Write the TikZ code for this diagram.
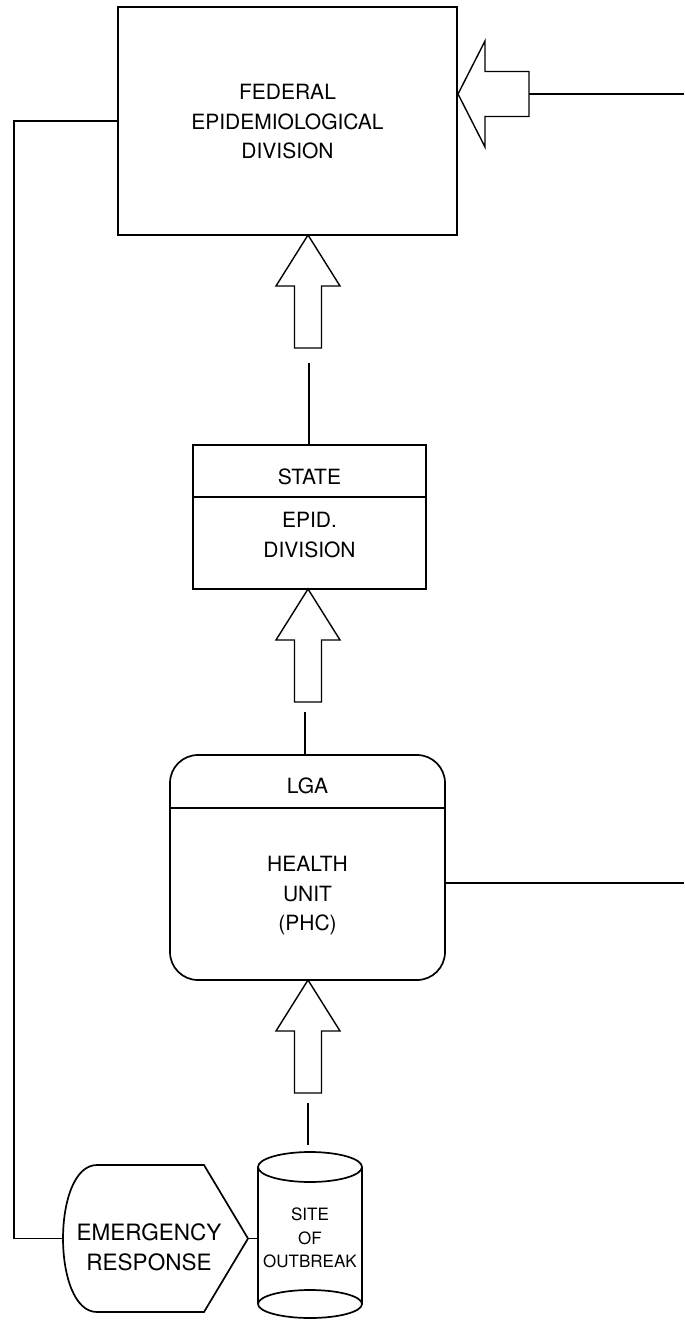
\documentclass[tikz,border=0pt]{standalone}
\usepackage{fontspec}
\setmainfont{TeX Gyre Heros}
\begin{document}
\begin{tikzpicture}[x=1bp,y=-1bp,
  every node/.style={font=\fontsize{21bp}{29.5bp}\selectfont, inner sep=0pt},
  big/.style={font=\fontsize{22.5bp}{30bp}\selectfont},
  small/.style={font=\fontsize{17bp}{23.5bp}\selectfont},
  box/.style={draw, line width=1.7bp},
  ln/.style={line width=1.2bp},
  blk/.style={draw, line width=1.4bp, fill=white, line join=miter},
  uparrow/.pic={\draw[blk] (0,0) -- (32,51) -- (13.5,51) -- (13.5,113) -- (-13.5,113) -- (-13.5,51) -- (-32,51) -- cycle;},
  leftarrow/.pic={\draw[blk] (0,0) -- (27,-53) -- (27,-22.5) -- (71,-22.5) -- (71,22.5) -- (27,22.5) -- (27,53) -- cycle;}
]
\useasboundingbox (0,0) rectangle (684,1321);

% Federal
\node[box, minimum width=339bp, minimum height=228bp] (fed) at (287.5,121) {};
\node[align=center] (fedt) at (287.5,122) {FEDERAL\\EPIDEMIOLOGICAL\\DIVISION};

% State
\node[box, minimum width=233bp, minimum height=144bp] (state) at (309.5,517) {};
\draw[ln] (state.west |- 0,497) -- (state.east |- 0,497);
\node (statet) at (309.5,477) {STATE};
\node[align=center] (epid) at (309.5,535) {EPID.\\DIVISION};

% LGA
\node[box, rounded corners=28bp, minimum width=275bp, minimum height=225bp] (lga) at (307.5,867.5) {};
\draw[ln] (lga.west |- 0,808) -- (lga.east |- 0,808);
\node (lgat) at (307.5,786) {LGA};
\node[align=center] (health) at (307.5,896) {HEALTH\\UNIT\\(PHC)};

% Site of outbreak (cylinder)
\node[minimum width=104bp, minimum height=173bp] (site) at (310,1231.5) {};
\draw[box] (258,1167) -- (258,1304) (362,1167) -- (362,1304);
\draw[box] (310,1167) ellipse [x radius=52bp, y radius=15bp];
\draw[box] (310,1304) ellipse [x radius=52bp, y radius=14bp];
\node[small, align=center] (sitet) at (310,1238) {SITE\\OF\\OUTBREAK};

% Emergency response
\node[minimum width=185bp, minimum height=147bp] (em) at (155.5,1238.5) {};
\draw[box] (97,1165) -- (204,1165) -- (248,1238.5) -- (204,1312) -- (97,1312)
  .. controls (51.7,1312) and (51.7,1165) .. (97,1165) -- cycle;
\node[big, align=center] (emt) at (149,1247) {EMERGENCY\\RESPONSE};

% Block arrows
\pic at (308,235) {uparrow};
\pic at (308,589) {uparrow};
\pic at (308,980) {uparrow};
\pic at (458,94) {leftarrow};

% Connectors
\coordinate (a1) at (309,363);
\draw[ln] (a1) -- (a1 |- state.north);
\coordinate (a2) at (305,712);
\draw[ln] (a2) -- (a2 |- lga.north);
\coordinate (a3) at (308,1103);
\draw[ln] (a3) -- (a3 |- site.north);
\coordinate (fr) at (684,94);
\draw[ln] (529,94) -- (fr);
\coordinate (lr) at (684,883);
\draw[ln] (lr -| lga.east) -- (lr);
\draw[ln] (248,1238.5) -- (site.west |- 0,1238.5);
\coordinate (lt) at (14,121);
\draw[ln] (em.west) -| (lt) -- (fed.west);
\end{tikzpicture}
\end{document}
